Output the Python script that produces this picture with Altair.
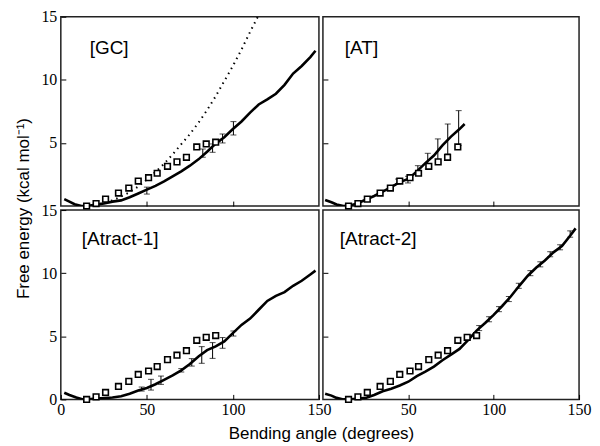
import altair as alt
import pandas as pd

# Experimental points (open squares), shared by the panels
sq_angle = [15, 20.5, 26, 33.5, 39.5, 45, 51, 56, 62, 67.5, 73, 79, 84.5, 90]
sq_energy = [0.0, 0.2, 0.55, 1.03, 1.43, 1.98, 2.25, 2.6, 3.15, 3.5, 3.86, 4.68, 4.92, 5.06]

# [GC]
gc_angle = [2, 5, 8, 12, 16, 20, 25, 30, 35, 40, 45, 50, 55, 60, 65, 70, 75, 80, 85, 90,
            95, 100, 105, 110, 115, 120, 125, 130, 135, 140, 145, 148]
gc_energy = [0.55, 0.35, 0.15, 0.0, 0.02, 0.1, 0.2, 0.35, 0.45, 0.7, 1.0, 1.3, 1.6, 1.95, 2.35, 2.75,
             3.2, 3.7, 4.3, 4.95, 5.45, 6.1, 6.7, 7.4, 8.05, 8.45, 8.9, 9.6, 10.5, 11.1, 11.8, 12.3]
gc_dot_angle = [13, 20, 25, 30, 35, 40, 45, 50, 55, 60, 65, 70, 75, 80, 85, 90, 95, 100, 105, 110, 114.5]
gc_dot_energy = [0.0, 0.07, 0.25, 0.45, 0.75, 1.1, 1.55, 2.1, 2.7, 3.35, 4.1, 4.9, 5.7, 6.6, 7.6,
                 8.7, 9.9, 11.1, 12.4, 13.8, 15.0]
gc_err_angle = [50, 82.5, 88.2, 94, 100.3]
gc_err_lo = [0.95, 3.87, 4.26, 5.0, 5.63]
gc_err_hi = [1.5, 4.52, 4.92, 5.71, 6.69]

# [AT]
at_angle = [1.3, 5, 8, 12, 16, 20, 25, 30, 35, 40, 45, 50, 55, 60, 65, 70, 75, 80, 83]
at_energy = [0.48, 0.3, 0.12, 0.0, 0.05, 0.2, 0.5, 0.8, 1.15, 1.5, 1.9, 2.15, 2.75, 3.4, 4.0, 4.8,
             5.5, 6.1, 6.5]
at_err_angle = [44, 49.8, 55.6, 61.4, 67.3, 73.1, 79.5]
at_err_lo = [1.75, 1.83, 2.46, 2.94, 3.47, 4.13, 4.79]
at_err_hi = [2.14, 2.36, 3.2, 4.18, 5.32, 6.5, 7.56]

# [Atract-1]
a1_angle = [2, 5, 9, 13, 17, 20, 25, 30, 35, 40, 45, 50, 55, 60, 65, 70, 75, 80, 85, 90, 95,
            100, 105, 110, 115, 120, 125, 130, 135, 140, 145, 148]
a1_energy = [0.53, 0.35, 0.15, 0.0, 0.02, 0.05, 0.1, 0.15, 0.25, 0.45, 0.7, 0.9, 1.2, 1.55, 1.9,
             2.3, 2.8, 3.4, 3.9, 4.2, 4.6, 5.25, 5.9, 6.4, 7.1, 7.8, 8.2, 8.5, 9.0, 9.4, 9.9, 10.2]
a1_err_angle = [47, 52.4, 58.2, 70, 76.1, 81.9, 88.2, 94, 100.3]
a1_err_lo = [0.66, 0.74, 1.19, 2.17, 2.64, 2.86, 3.25, 4.05, 5.02]
a1_err_hi = [0.98, 1.59, 1.85, 2.44, 3.23, 4.18, 4.5, 4.9, 5.42]

# [Atract-2]
a2_angle = [1.3, 5, 8, 12, 16, 20, 25, 30, 35, 40, 45, 50, 55, 60, 65, 70, 75, 80, 85, 90, 95,
            100, 105, 110, 115, 120, 125, 130, 135, 140, 145, 148]
a2_energy = [0.45, 0.3, 0.12, 0.0, 0.0, 0.05, 0.12, 0.35, 0.65, 0.85, 1.1, 1.4, 1.85, 2.2, 2.6,
             3.1, 3.55, 4.0, 4.7, 5.45, 6.05, 6.7, 7.4, 8.15, 9.0, 9.8, 10.45, 11.0, 11.65, 12.15,
             13.0, 13.55]
a2_err_angle = [91.5, 97.3, 103.1, 108.9, 114.7, 121.5, 127.3, 133.1, 138.9, 144.8]
a2_err_lo = [5.45, 6.15, 6.95, 7.75, 8.8, 9.8, 10.5, 11.3, 11.85, 12.85]
a2_err_hi = [5.85, 6.55, 7.35, 8.15, 9.2, 10.2, 10.9, 11.7, 12.25, 13.35]

x_ticks_full = [0, 50, 100, 150]
x_ticks_right = [50, 100, 150]
x_ticks_top = [50, 100]
y_ticks_top = [5, 10, 15]
y_ticks_full = [0, 5, 10, 15]
y_ticks_right = [5, 10]

X_TITLE = "Bending angle (degrees)"
Y_TITLE = "Free energy (kcal mol\u207b\u00b9)"


def panel(label, ld, le, ed, elo, ehi, nsq, w, h, xvals, xlab, yvals, ylab,
          label_xy, xtitle=None, ytitle=None, dd=None, de=None):
    xkw = dict(values=xvals, labels=xlab, offset=-5, tickSize=5, domain=False, grid=False,
               labelPadding=2, labelFlush=False, tickColor="black", tickWidth=1)
    ykw = dict(values=yvals, labels=ylab, offset=-5, tickSize=5, domain=False, grid=False,
               labelPadding=4, labelFlush=False, tickColor="black", tickWidth=1)
    if xtitle:
        xkw.update(title=xtitle, titleX=w + 2, titlePadding=8)
    else:
        xkw.update(title=None)
    if ytitle:
        ykw.update(title=ytitle, titleY=h + 2, titlePadding=8)
    else:
        ykw.update(title=None)
    X = alt.X("d:Q", scale=alt.Scale(domain=[0, 150], nice=False, zero=False), axis=alt.Axis(**xkw))
    Y = alt.Y("E:Q", scale=alt.Scale(domain=[0, 15], nice=False, zero=False), axis=alt.Axis(**ykw))

    line_df = pd.DataFrame({"d": ld, "E": le})
    sq_df = pd.DataFrame({"d": sq_angle[:nsq], "E": sq_energy[:nsq]})
    err_df = pd.DataFrame({"d": ed, "E": elo, "E2": ehi})
    cap_df = pd.DataFrame({"d": list(ed) + list(ed), "E": list(elo) + list(ehi)})

    layers = []
    if dd is not None:
        dot_df = pd.DataFrame({"d": dd, "E": de})
        layers.append(alt.Chart(dot_df).mark_line(color="black", strokeWidth=2,
                                                  strokeDash=[1.5, 4.2], clip=True)
                      .encode(x=X, y=Y))
    layers.append(alt.Chart(line_df).mark_line(color="black", strokeWidth=2.6, clip=True)
                  .encode(x=X, y=Y))
    layers.append(alt.Chart(err_df).mark_rule(color="black", strokeWidth=1)
                  .encode(x=X, y=Y, y2="E2:Q"))
    layers.append(alt.Chart(cap_df).mark_tick(color="black", orient="horizontal",
                                              size=6, thickness=1)
                  .encode(x=X, y=Y))
    layers.append(alt.Chart(sq_df).mark_square(fill="white", stroke="black", strokeWidth=1.6,
                                               size=32, opacity=1)
                  .encode(x=X, y=Y))
    layers.append(alt.Chart(pd.DataFrame({"t": [label]})).mark_text(
        align="left", baseline="middle", font="Liberation Sans", fontSize=19, color="black")
        .encode(text="t:N", x=alt.value(label_xy[0]), y=alt.value(label_xy[1])))
    return alt.layer(*layers).properties(width=w, height=h)


W_L, W_R, H = 259, 257, 190

tl = panel("[GC]", gc_angle, gc_energy, gc_err_angle, gc_err_lo, gc_err_hi, 14, W_L, H,
           x_ticks_top, False, y_ticks_top, True, (29, 31), ytitle=Y_TITLE,
           dd=gc_dot_angle, de=gc_dot_energy)
tr = panel("[AT]", at_angle, at_energy, at_err_angle, at_err_lo, at_err_hi, 12, W_R, H,
           x_ticks_top, False, y_ticks_right, False, (22, 31))
bl = panel("[Atract-1]", a1_angle, a1_energy, a1_err_angle, a1_err_lo, a1_err_hi, 14, W_L, H,
           x_ticks_full, True, y_ticks_full, True, (21, 29), xtitle=X_TITLE)
br = panel("[Atract-2]", a2_angle, a2_energy, a2_err_angle, a2_err_lo, a2_err_hi, 14, W_R, H,
           x_ticks_right, True, y_ticks_right, False, (17, 29))

chart = alt.concat(
    tl, tr, bl, br, columns=2, spacing=4, bounds="flush"
).properties(
    padding={"left": 6, "top": -1, "right": 0, "bottom": 0},
    background="white",
).configure_view(
    stroke="#222", strokeWidth=1.5
).configure_axis(
    labelFont="Liberation Serif", labelFontSize=16, labelColor="black",
    titleFont="Liberation Sans", titleFontSize=17, titleFontWeight="normal", titleColor="black"
)

chart.save("out.html", embed_options={"renderer": "svg", "actions": False})
